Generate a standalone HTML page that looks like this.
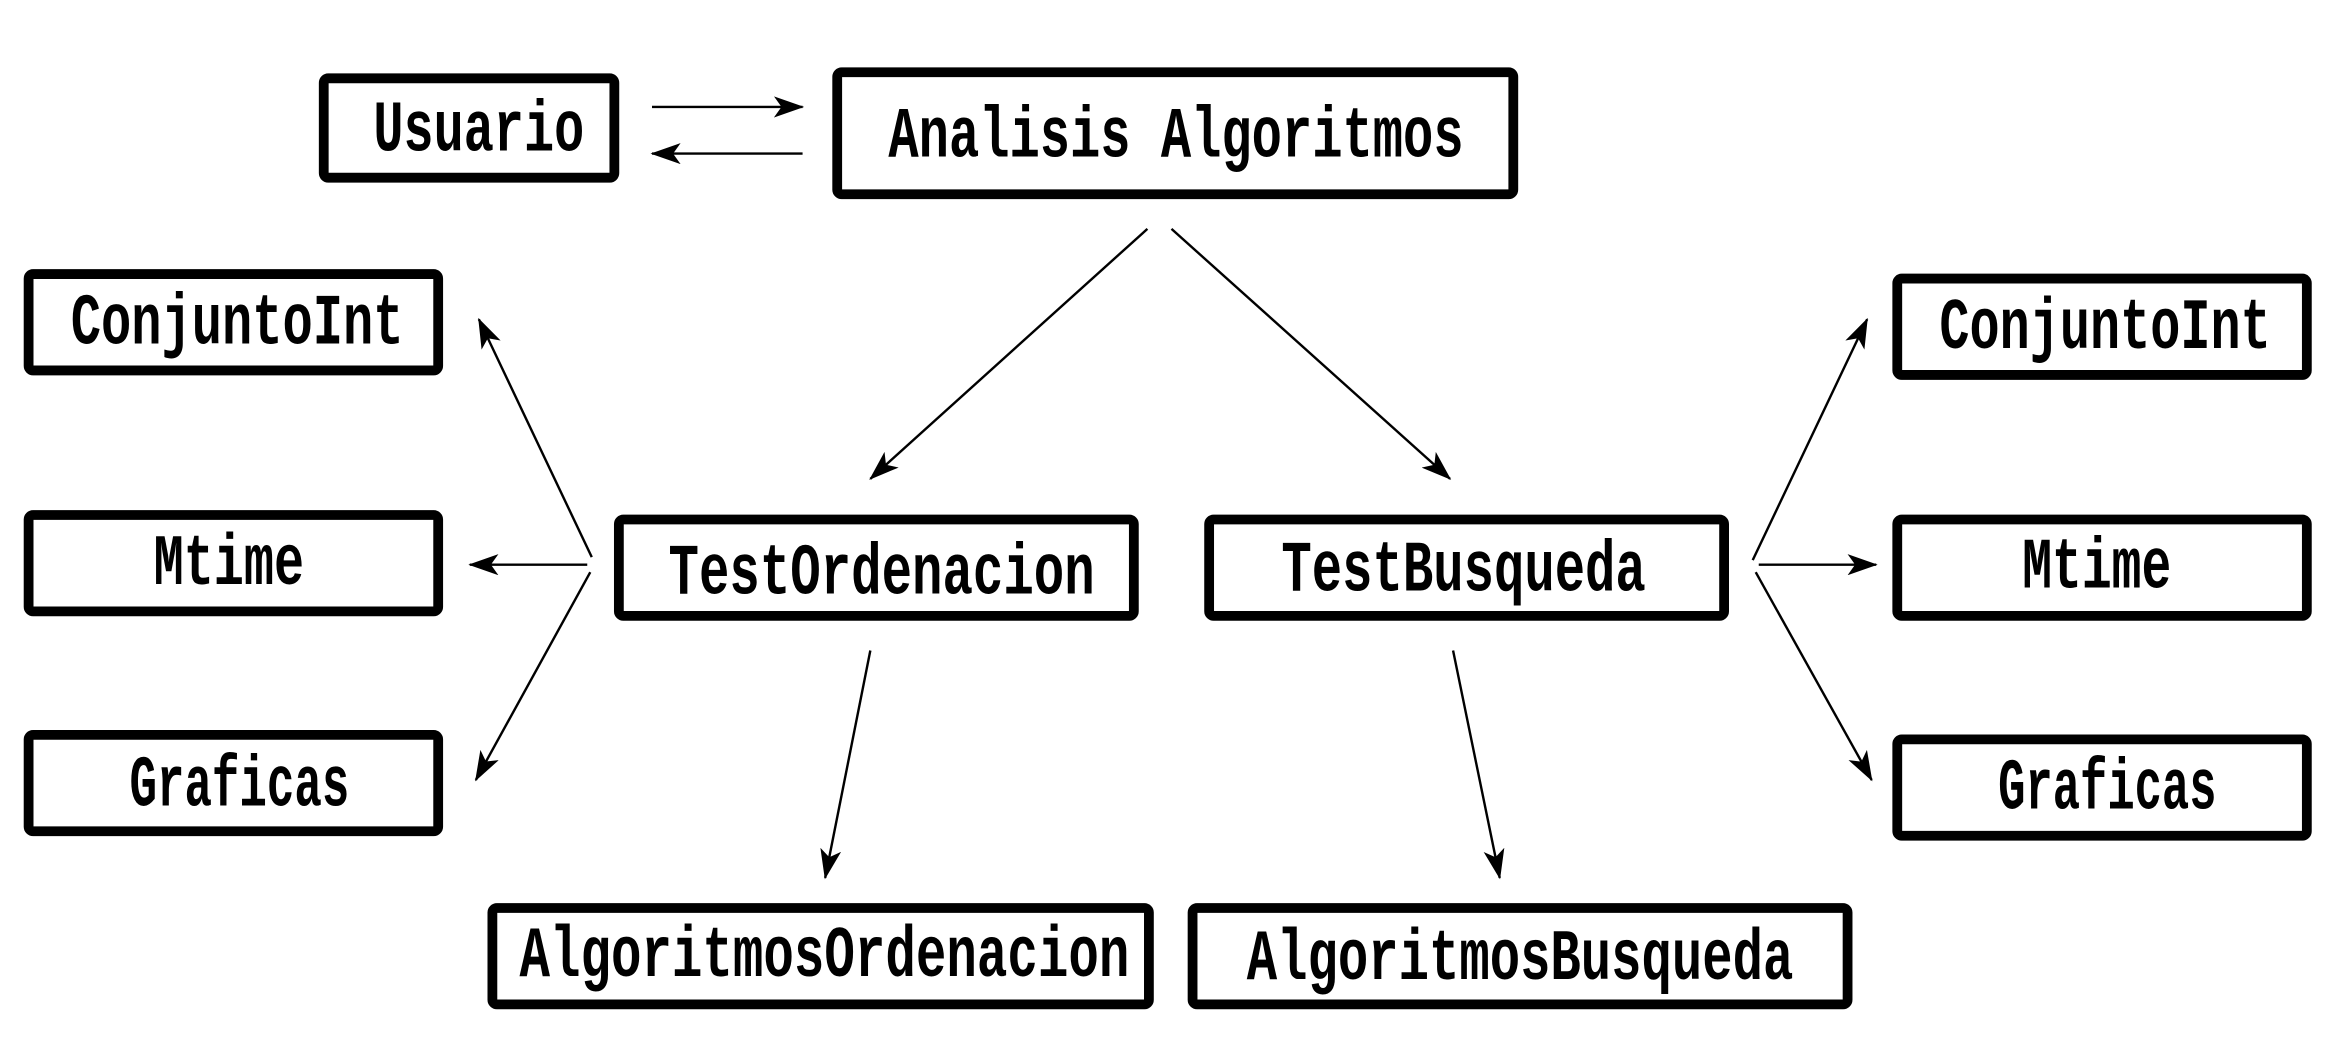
<!DOCTYPE html>
<html><head><meta charset="utf-8"><style>
html,body{margin:0;padding:0;background:#fff;}
svg{display:block;}
text{font-family:"Liberation Mono","DejaVu Sans Mono",monospace;font-weight:bold;font-size:48px;fill:#000;}
</style></head><body>
<svg width="2349" height="1061" viewBox="0 0 1560 704.6" preserveAspectRatio="none" xmlns="http://www.w3.org/2000/svg">
<defs>
<marker id="a" viewBox="0 0 20 14" refX="19" refY="7" markerWidth="20" markerHeight="14" markerUnits="userSpaceOnUse" orient="auto">
<path d="M0,0 L20,7 L0,14 L5,7 Z" fill="#000"/>
</marker>
</defs>
<g fill="#fff" stroke="#000" stroke-width="6.5">
<rect x="215" y="52" width="193" height="66" rx="3"/>
<rect x="556" y="48" width="449" height="81" rx="3"/>
<rect x="19" y="182" width="272" height="64" rx="3"/>
<rect x="19" y="342" width="272" height="64" rx="3"/>
<rect x="19" y="488" width="272" height="64" rx="3"/>
<rect x="411" y="345" width="342" height="64" rx="3"/>
<rect x="803" y="345" width="342" height="64" rx="3"/>
<rect x="1260" y="185" width="272" height="64" rx="3"/>
<rect x="1260" y="345" width="272" height="64" rx="3"/>
<rect x="1260" y="491" width="272" height="64" rx="3"/>
<rect x="327" y="603" width="436" height="64" rx="3"/>
<rect x="792" y="603" width="435" height="64" rx="3"/>
</g>
<g stroke="#000" stroke-width="1.6" fill="none" marker-end="url(#a)">
<line x1="433" y1="71" x2="533" y2="71"/>
<line x1="533" y1="102" x2="433" y2="102"/>
<line x1="762" y1="152" x2="578" y2="318"/>
<line x1="778" y1="152" x2="963" y2="318"/>
<line x1="393" y1="370" x2="318" y2="212"/>
<line x1="390" y1="375" x2="312" y2="375"/>
<line x1="392" y1="380" x2="316" y2="518"/>
<line x1="578" y1="432" x2="548" y2="583"/>
<line x1="965" y1="432" x2="996" y2="583"/>
<line x1="1164" y1="372" x2="1240" y2="212"/>
<line x1="1168" y1="375" x2="1246" y2="375"/>
<line x1="1166" y1="380" x2="1243" y2="518"/>
</g>
<g>
<text x="248" y="100" textLength="140" lengthAdjust="spacingAndGlyphs">Usuario</text>
<text x="590" y="104" textLength="382" lengthAdjust="spacingAndGlyphs">Analisis Algoritmos</text>
<text x="47" y="228" textLength="221" lengthAdjust="spacingAndGlyphs">ConjuntoInt</text>
<text x="102" y="388" textLength="100" lengthAdjust="spacingAndGlyphs">Mtime</text>
<text x="86" y="535" textLength="146" lengthAdjust="spacingAndGlyphs">Graficas</text>
<text x="444" y="394" textLength="283" lengthAdjust="spacingAndGlyphs">TestOrdenacion</text>
<text x="851" y="392" textLength="242" lengthAdjust="spacingAndGlyphs">TestBusqueda</text>
<text x="1288" y="231" textLength="220" lengthAdjust="spacingAndGlyphs">ConjuntoInt</text>
<text x="1343" y="390" textLength="99" lengthAdjust="spacingAndGlyphs">Mtime</text>
<text x="1327" y="537" textLength="145" lengthAdjust="spacingAndGlyphs">Graficas</text>
<text x="345" y="648" textLength="405" lengthAdjust="spacingAndGlyphs">AlgoritmosOrdenacion</text>
<text x="828" y="650" textLength="363" lengthAdjust="spacingAndGlyphs">AlgoritmosBusqueda</text>
</g>
</svg>
</body></html>
